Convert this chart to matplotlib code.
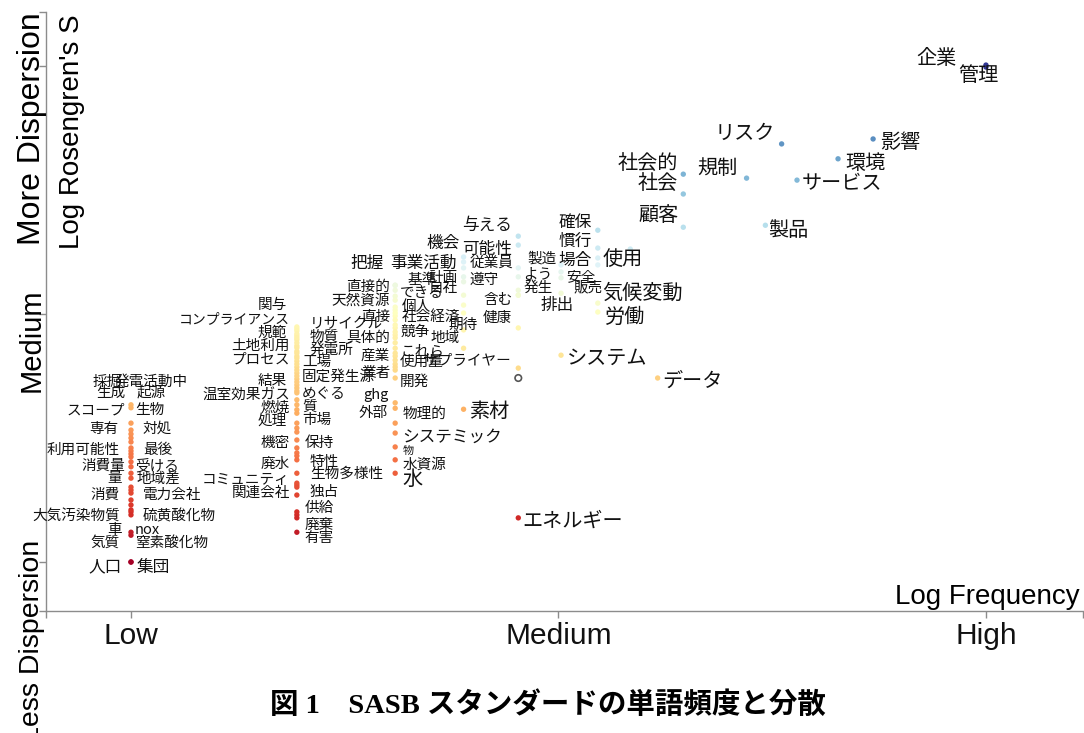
import numpy as np
import matplotlib
matplotlib.use("Agg")
import matplotlib.pyplot as plt
from matplotlib.colors import Normalize

plt.rcParams['font.family'] = ['Noto Sans CJK JP', 'DejaVu Sans']

# x = log frequency (0 Low, 0.5 Medium, 1 High), y = log Rosengren's S
col_a_freq = 0.0
col_a_words = ['採掘', '発電活動中', '生成', '起源', 'スコープ', '生物', '専有', '対処',
               '利用可能性', '最後', '消費量', '受ける', '量', '地域差', '消費', '電力会社',
               '大気汚染物質', '硫黄酸化物', '車', 'nox', '気質', '窒素酸化物', '人口', '集団']
col_a_disp = [0.317, 0.311, 0.280, 0.266, 0.258, 0.250, 0.242, 0.230,
              0.224, 0.218, 0.212, 0.202, 0.192, 0.179, 0.169, 0.151,
              0.139, 0.125, 0.115, 0.105, 0.095, 0.060, 0.0, 0.0]

col_b_freq = 0.194
col_b_words = ['関与', 'コンプライアンス', 'リサイクル', '規範', '物質', '土地利用', '発電所',
               'プロセス', '工場', '固定発生源', '結果', 'めぐる', '温室効果ガス', '質', '燃焼',
               '市場', '処理', '機密', '保持', '特性', '廃水', '生物多様性', 'コミュニティ',
               '独占', '関連会社', '供給', '廃棄', '有害']
col_b_disp = [0.474, 0.470, 0.466, 0.460, 0.452, 0.442, 0.432,
              0.421, 0.411, 0.399, 0.387, 0.375, 0.363, 0.351, 0.341,
              0.327, 0.317, 0.246, 0.230, 0.214, 0.206, 0.179, 0.159,
              0.151, 0.135, 0.101, 0.089, 0.060]

col_c_freq = 0.309
col_c_words = ['把握', '基準', 'できる', '直接的', '天然資源', '個人', '直接', '社会経済',
               '競争', '具体的', 'これら', '産業', '使用量', '業者', '開発', 'ghg', '外部',
               '物理的', 'システミック', '物', '水資源', '水']
col_c_disp = [0.558, 0.558, 0.548, 0.528, 0.514, 0.502, 0.488, 0.478,
              0.464, 0.452, 0.442, 0.421, 0.407, 0.393, 0.371, 0.321, 0.310,
              0.280, 0.260, 0.232, 0.206, 0.179]

col_d_freq = 0.389
col_d_words = ['機会', '事業活動', '従業員', '遵守', '計画', '自社', '期待', '地域', '素材']
col_d_disp = [0.615, 0.605, 0.593, 0.575, 0.565, 0.538, 0.468, 0.431, 0.308]

col_e_freq = 0.453
col_e_words = ['与える', '可能性', '製造', 'よう', '発生', '含む', '排出', '健康',
               'サプライヤー', 'エネルギー']
col_e_disp = [0.657, 0.639, 0.593, 0.575, 0.548, 0.538, 0.538, 0.472, 0.391, 0.089]

col_f_freq = 0.503
col_f_words = ['安全', '販売', 'システム']
col_f_disp = [0.573, 0.542, 0.417]

col_g_freq = 0.546
col_g_words = ['確保', '慣行', '使用', '場合', '気候変動', '労働']
col_g_disp = [0.669, 0.633, 0.613, 0.599, 0.522, 0.504]

top_words = ['データ', '社会的', '社会', '顧客', '規制', '製品', 'リスク', 'サービス',
             '環境', '影響', '企業', '管理']
top_freq = [0.616, 0.646, 0.646, 0.646, 0.720, 0.742, 0.761, 0.779,
            0.827, 0.868, 1.0, 1.0]
top_disp = [0.371, 0.782, 0.742, 0.675, 0.774, 0.679, 0.843, 0.770,
            0.813, 0.853, 1.002, 0.998]

# points without a label
unlabeled = {
    0.0: [0.145, 0.101, 0.054],
    0.194: [0.307, 0.300, 0.280, 0.270, 0.262, 0.220, 0.155, 0.095, 0.456, 0.448,
            0.436, 0.425, 0.415, 0.405, 0.393, 0.381, 0.369, 0.357, 0.345],
    0.309: [0.536, 0.508, 0.496, 0.472, 0.458, 0.431, 0.415, 0.399, 0.387],
    0.389: [0.518, 0.502],
    0.503: [0.599, 0.585],
    0.584: [0.631],
}
ring_freq = [0.453]
ring_disp = [0.371]

# label placement: (ha, dx px, dy px downwards, size)
S, M, L = 10.5, 12, 14.5
label_style = {
    '採掘': ('right', -9, -23, S), '発電活動中': ('left', -16, -26, S),
    '生成': ('right', -6, -30, S), '起源': ('left', 6, -37, S),
    'スコープ': ('right', -6, -24, S), '生物': ('left', 4, -28, S),
    '専有': ('right', -12, -13, S), '対処': ('left', 12, -19, S),
    '利用可能性': ('right', -11, -1, S), '最後': ('left', 12, -4, S),
    '消費量': ('right', -6, 9, S), '受ける': ('left', 4, 4, S),
    '量': ('right', -9, 11, S), '地域差': ('left', 6, 5, S),
    '消費': ('right', -11, 17, S), '電力会社': ('left', 12, 8, S),
    '大気汚染物質': ('right', -11, 23, S), '硫黄酸化物': ('left', 12, 16, S),
    '車': ('right', -9, 25, S), 'nox': ('left', 4, 20, S),
    '気質': ('right', -11, 28, S), '窒素酸化物': ('left', 4, 11, S),
    '人口': ('right', -9, 5, M), '集団': ('left', 6, 5, M),

    '関与': ('right', -10, -22, S), 'コンプライアンス': ('right', -7, -10, 10),
    'リサイクル': ('left', 13, -7, S), '規範': ('right', -10, -1, S),
    '物質': ('left', 13, -1, S), '土地利用': ('right', -7, 3, S),
    '発電所': ('left', 13, 2, S), 'プロセス': ('right', -7, 6, S),
    '工場': ('left', 5, 4, S), '固定発生源': ('left', 5, 13, S),
    '結果': ('right', -10, 11, S), 'めぐる': ('left', 5, 18, S),
    '温室効果ガス': ('right', -7, 13, S), '質': ('left', 5, 19, S),
    '燃焼': ('right', -7, 15, S), '市場': ('left', 5, 20, S),
    '処理': ('right', -10, 16, S), '機密': ('right', -7, 3, S),
    '保持': ('left', 8, -5, S), '特性': ('left', 13, 6, S),
    '廃水': ('right', -7, 4, S), '生物多様性': ('left', 13, 1, S),
    'コミュニティ': ('right', -7, -3, S), '独占': ('left', 13, 5, S),
    '関連会社': ('right', -7, -2, S), '供給': ('left', 8, -4, S),
    '廃棄': ('left', 8, 7, S), '有害': ('left', 8, 6, S),

    '把握': ('right', -12, -22, M), '基準': ('left', 12, -5, S),
    'できる': ('left', 5, 3, S), '直接的': ('right', -5, -13, S),
    '天然資源': ('right', -5, -6, S), '個人': ('left', 7, -6, S),
    '直接': ('right', -5, -3, S), '社会経済': ('left', 7, -8, S),
    '競争': ('left', 5, 0, S), '具体的': ('right', -5, 0, S),
    'これら': ('left', 5, 9, S), '産業': ('right', -5, 2, S),
    '使用量': ('left', 5, 2, S), '業者': ('right', -5, 6, S),
    '開発': ('left', 5, 4, S), 'ghg': ('right', -7, -8, S),
    '外部': ('right', -7, 5, S), '物理的': ('left', 7, -9, S),
    'システミック': ('left', 7, 4, M), '物': ('left', 7, 4, 8),
    '水資源': ('left', 7, 5, S), '水': ('left', 7, 6, L),

    '機会': ('right', -4, -14, M), '事業活動': ('right', -7, 1, M),
    '従業員': ('left', 6, -5, S), '遵守': ('left', 6, 3, S),
    '計画': ('right', -6, -4, S), '自社': ('right', -6, -7, S),
    '期待': ('left', -15, -5, S), '地域': ('right', -4, -10, S),
    '素材': ('left', 6, 2, L),

    '与える': ('right', -6, -11, M), '可能性': ('right', -6, 4, M),
    '製造': ('left', 9, -9, S), 'よう': ('left', 5, -2, S),
    '発生': ('left', 5, -2, S), '含む': ('right', -6, 5, S),
    '排出': ('left', 22, 10, M), '健康': ('right', -6, -10, S),
    'サプライヤー': ('right', -8, -8, S), 'エネルギー': ('left', 4, 3, L),

    '安全': ('left', 5, 0, S), '販売': ('left', 12, -6, S),
    'システム': ('left', 6, 3, L),
    '確保': ('right', -6, -8, M), '慣行': ('right', -6, -7, M),
    '使用': ('left', 5, 2, L), '場合': ('right', -6, -5, M),
    '気候変動': ('left', 4, -10, L), '労働': ('left', 7, 5, L),

    'データ': ('left', 5, 3, L), '社会的': ('right', -5, -11, L),
    '社会': ('right', -5, -11, L), '顧客': ('right', -5, -12, L),
    '規制': ('right', -9, -10, L), '製品': ('left', 3, 5, L),
    'リスク': ('right', -7, -11, L), 'サービス': ('left', 5, 4, L),
    '環境': ('left', 7, 5, L), '影響': ('left', 7, 4, L),
    '企業': ('right', -29, -7, L), '管理': ('left', -28, 8, L),
}

# gather everything
words, freq, disp = [], [], []
for f, ws, ds in [(col_a_freq, col_a_words, col_a_disp),
                  (col_b_freq, col_b_words, col_b_disp),
                  (col_c_freq, col_c_words, col_c_disp),
                  (col_d_freq, col_d_words, col_d_disp),
                  (col_e_freq, col_e_words, col_e_disp),
                  (col_f_freq, col_f_words, col_f_disp),
                  (col_g_freq, col_g_words, col_g_disp)]:
    words += ws
    freq += [f] * len(ws)
    disp += ds
words += top_words
freq += top_freq
disp += top_disp

ex_x, ex_y = [], []
for f, ds in unlabeled.items():
    ex_x += [f] * len(ds)
    ex_y += ds

W, H = 1084, 733
fig = plt.figure(figsize=(W / 100, H / 100), dpi=100)
ax = fig.add_axes([46 / W, 1 - 611 / H, (1083 - 46) / W, (611 - 12) / H])

xmin, xmax = -0.0994, 1.1135
ymin, ymax = -0.0988, 1.109
ax.set_xlim(xmin, xmax)
ax.set_ylim(ymin, ymax)

cmap = plt.get_cmap('RdYlBu')
norm = Normalize(0, 1)

ax.scatter(ex_x, ex_y, c=cmap(norm(ex_y)), s=15, linewidths=0, zorder=2)
ax.scatter(freq, disp, c=cmap(norm(np.array(disp))), s=15, linewidths=0, zorder=2)
ax.scatter(ring_freq, ring_disp, s=22, facecolors='none', edgecolors='#555555',
           linewidths=1.2, zorder=3)

for w, x, y in zip(words, freq, disp):
    ha, dx, dy, size = label_style[w]
    ax.annotate(w, (x, y), xytext=(dx, -dy), textcoords='offset pixels',
                ha=ha, va='center', fontsize=size, color='#111111', zorder=4)

for side in ['top', 'right']:
    ax.spines[side].set_visible(False)
for side in ['left', 'bottom']:
    ax.spines[side].set_color('#8c8c8c')
    ax.spines[side].set_linewidth(1)

latin = ['Liberation Sans', 'DejaVu Sans']
ax.set_xticks([xmin, 0, 0.5, 1, xmax])
ax.set_xticklabels(['', 'Low', 'Medium', 'High', ''])
ax.set_yticks([ymin, 0, 0.5, 1, ymax])
ax.set_yticklabels([])
ax.tick_params(axis='both', colors='#8c8c8c', length=5, width=1)
ax.tick_params(axis='x', labelsize=21.5, labelcolor='#111111', pad=3)
for t in ax.get_xticklabels():
    t.set_family(latin)

fig.text(32 / W, 1 - 12 / H, 'More Dispersion', rotation=90, ha='center', va='top',
         fontsize=23, family=latin)
fig.text(32 / W, 1 - 340 / H, 'Medium', rotation=90, ha='center', va='center',
         fontsize=21, family=latin)
fig.text(32 / W, 1 - 540 / H, 'Less Dispersion', rotation=90, ha='center', va='top',
         fontsize=20.5, family=latin)
fig.text(72 / W, 1 - 14 / H, "Log Rosengren's S", rotation=90, ha='center', va='top',
         fontsize=20, family=latin)
fig.text(1080 / W, 1 - 597 / H, 'Log Frequency', ha='right', va='center',
         fontsize=20, family=latin)

fig.text(548 / W, 1 - 705 / H, '図 1\u3000SASB スタンダードの単語頻度と分散',
         ha='center', va='center', fontsize=20.5, fontweight='bold',
         family=['Liberation Serif', 'Noto Sans CJK JP'])

fig.savefig('out.png', dpi=100)
